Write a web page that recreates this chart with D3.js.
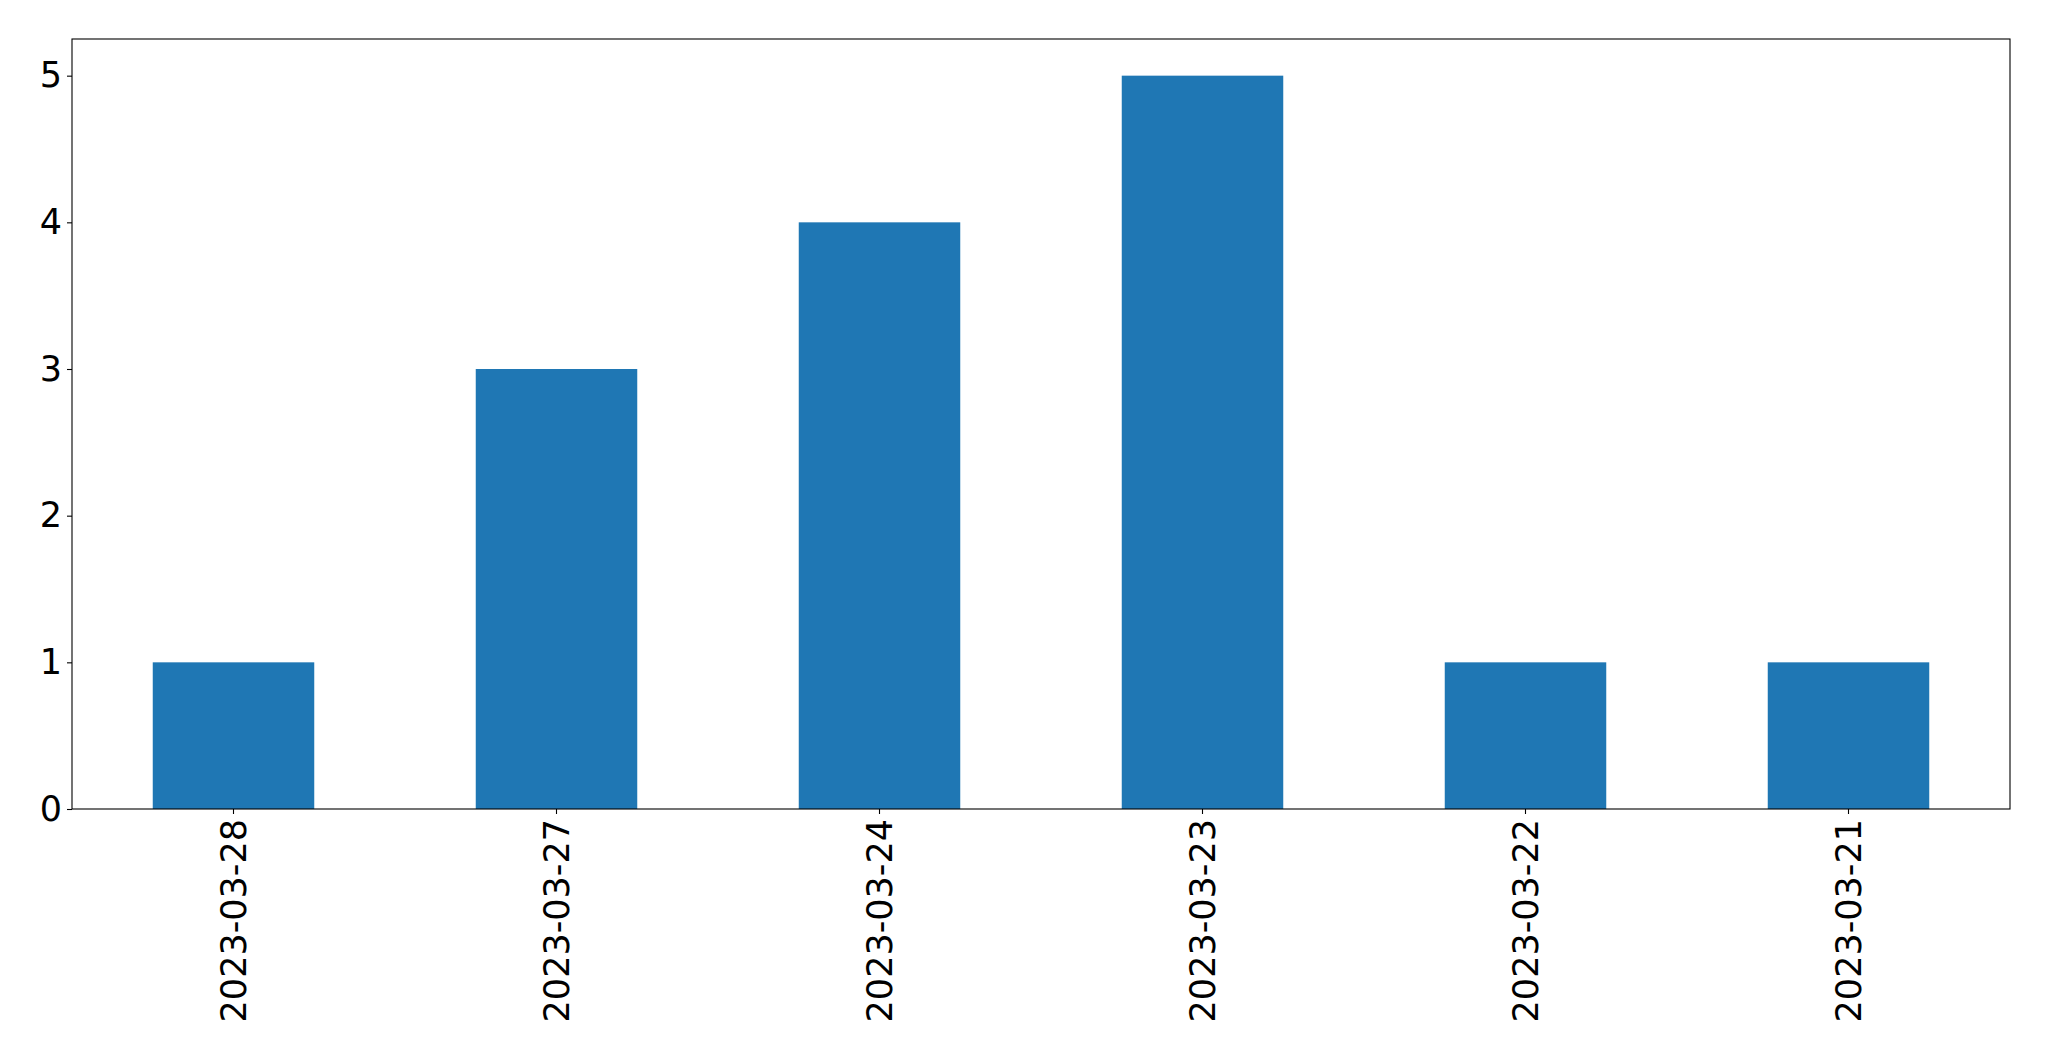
<!DOCTYPE html>
<html>
<head>
<meta charset="utf-8">
<script src="https://cdn.jsdelivr.net/npm/d3@7"></script>
<style>
  html, body { margin: 0; padding: 0; background: #fff; }
  svg { display: block; }
  text { font-family: "DejaVu Sans", sans-serif; fill: #000; }
</style>
</head>
<body>
<svg id="chart" width="2049" height="1061"></svg>
<script>
const categories = ["2023-03-28", "2023-03-27", "2023-03-24", "2023-03-23", "2023-03-22", "2023-03-21"];
const values = [1, 3, 4, 5, 1, 1];
const yTicks = [0, 1, 2, 3, 4, 5];

const W = 2049, H = 1061;
const margin = { left: 72, right: 2049 - 2010, top: 39, bottom: 1061 - 809 };
const svg = d3.select("#chart");
const plotW = W - margin.left - margin.right;
const plotH = H - margin.top - margin.bottom;

const x = d3.scaleBand().domain(categories).range([0, plotW]).paddingInner(0.5).paddingOuter(0.25);
const y = d3.scaleLinear().domain([0, d3.max(values) * 1.05]).range([plotH, 0]);

const g = svg.append("g").attr("transform", `translate(${margin.left},${margin.top})`);

g.selectAll("rect.bar").data(values).enter().append("rect")
  .attr("class", "bar")
  .attr("x", (d, i) => x(categories[i]))
  .attr("width", x.bandwidth())
  .attr("y", d => y(d))
  .attr("height", d => y(0) - y(d))
  .attr("fill", "#1f77b4");

const fontSize = 35;

const xAxis = g.append("g").attr("transform", `translate(0,${plotH})`)
  .call(d3.axisBottom(x).tickSize(5).tickPadding(5));
xAxis.select(".domain").remove();
xAxis.selectAll(".tick line").attr("stroke", "#000").attr("stroke-width", 1.1);
xAxis.selectAll(".tick text")
  .attr("font-size", fontSize)
  .attr("font-family", "DejaVu Sans")
  .attr("fill", "#000")
  .attr("transform", "rotate(-90)")
  .attr("x", -10)
  .attr("y", 0)
  .attr("dy", "0.35em")
  .attr("text-anchor", "end");

const yAxis = g.append("g")
  .call(d3.axisLeft(y).tickValues(yTicks).tickFormat(d3.format("d")).tickSize(5).tickPadding(5));
yAxis.select(".domain").remove();
yAxis.selectAll(".tick line").attr("stroke", "#000").attr("stroke-width", 1.1);
yAxis.selectAll(".tick text")
  .attr("font-size", fontSize)
  .attr("font-family", "DejaVu Sans")
  .attr("fill", "#000");

g.append("rect")
  .attr("x", 0).attr("y", 0)
  .attr("width", plotW).attr("height", plotH)
  .attr("fill", "none").attr("stroke", "#000").attr("stroke-width", 1.1);
</script>
</body>
</html>
